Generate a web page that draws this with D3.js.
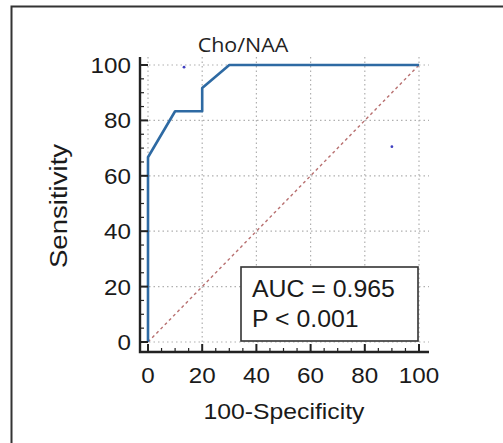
<!DOCTYPE html>
<html>
<head>
<meta charset="utf-8">
<script src="https://cdn.jsdelivr.net/npm/d3@7"></script>
<style>
  body { margin: 0; background: #fff; }
  svg { display: block; }
  text { font-family: "Liberation Sans", Arial, sans-serif; fill: #1a1a1a; }
</style>
</head>
<body>
<div id="chart"></div>
<script>
// ROC curve points (100-Specificity, Sensitivity)
var rocX = [0, 0, 10, 20, 20, 30, 100];
var rocY = [0, 66.7, 83.3, 83.3, 91.7, 100, 100];
// stray markers seen in the plot
var dotX = [13.3, 90];
var dotY = [99.2, 70.5];
var xTicks = [0, 20, 40, 60, 80, 100];
var yTicks = [0, 20, 40, 60, 80, 100];
var minorTicks = d3.range(0, 101, 5);
var chartTitle = "Cho/NAA";
var xLabel = "100-Specificity";
var yLabel = "Sensitivity";
var statLines = ["AUC = 0.965", "P < 0.001"];

var width = 503, height = 443;
var svg = d3.select("#chart").append("svg")
    .attr("width", width)
    .attr("height", height);

// stretch text horizontally a bit, the source picture is wider than tall
function stretch(sel, k) {
    sel.each(function () {
        var w = this.getComputedTextLength();
        d3.select(this).attr("textLength", w * k).attr("lengthAdjust", "spacingAndGlyphs");
    });
}

// frame (only left and top edges visible)
svg.append("path")
    .attr("d", "M11.5,443 V6.5 H503")
    .attr("fill", "none")
    .attr("stroke", "#333")
    .attr("stroke-width", 2);

var xScale = d3.scaleLinear().domain([0, 100]).range([148, 419]);
var yScale = d3.scaleLinear().domain([0, 100]).range([342, 65]);
var axisX0 = 140, axisY0 = 352, axisTop = 57, axisRight = 429;

// grid
var grid = svg.append("g").attr("stroke", "#b0b0b0").attr("stroke-width", 1.2)
    .attr("stroke-dasharray", "1.5,3");
grid.selectAll(".gx").data(xTicks).enter().append("line")
    .attr("x1", d => xScale(d)).attr("x2", d => xScale(d))
    .attr("y1", axisTop).attr("y2", axisY0);
grid.selectAll(".gy").data(yTicks).enter().append("line")
    .attr("y1", d => yScale(d)).attr("y2", d => yScale(d))
    .attr("x1", axisX0).attr("x2", axisRight);

// diagonal reference
svg.append("line")
    .attr("x1", xScale(0)).attr("y1", yScale(0))
    .attr("x2", xScale(100)).attr("y2", yScale(100))
    .attr("stroke", "#b87070").attr("stroke-width", 1.4)
    .attr("stroke-dasharray", "3,3");

// ROC curve
var line = d3.line().x(d => xScale(d[0])).y(d => yScale(d[1]));
svg.append("path")
    .datum(d3.zip(rocX, rocY))
    .attr("d", line)
    .attr("fill", "none")
    .attr("stroke", "#2e6aa3")
    .attr("stroke-width", 2.6)
    .attr("stroke-linejoin", "round");

svg.selectAll(".dot").data(d3.zip(dotX, dotY)).enter().append("circle")
    .attr("cx", d => xScale(d[0])).attr("cy", d => yScale(d[1]))
    .attr("r", 1.4).attr("fill", "#4040c0");

// axes
var axes = svg.append("g").attr("stroke", "#222");
axes.append("path")
    .attr("d", "M" + axisX0 + "," + axisTop + " V" + axisY0 + " H" + axisRight)
    .attr("fill", "none").attr("stroke-width", 2.4);
axes.selectAll(".ym").data(minorTicks).enter().append("line")
    .attr("x1", axisX0).attr("x2", d => axisX0 + (d % 20 === 0 ? 8 : 4))
    .attr("y1", d => yScale(d)).attr("y2", d => yScale(d))
    .attr("stroke-width", d => d % 20 === 0 ? 2 : 1.2);
axes.selectAll(".xm").data(minorTicks).enter().append("line")
    .attr("y1", axisY0).attr("y2", d => axisY0 - (d % 20 === 0 ? 8 : 4))
    .attr("x1", d => xScale(d)).attr("x2", d => xScale(d))
    .attr("stroke-width", d => d % 20 === 0 ? 2 : 1.2);

// tick labels
svg.selectAll(".yl").data(yTicks).enter().append("text")
    .attr("x", 131).attr("y", d => yScale(d) + 8)
    .attr("text-anchor", "end").attr("font-size", 22)
    .text(d => d)
    .call(stretch, 1.1);
svg.selectAll(".xl").data(xTicks).enter().append("text")
    .attr("x", d => xScale(d)).attr("y", 383)
    .attr("text-anchor", "middle").attr("font-size", 22)
    .text(d => d)
    .call(stretch, 1.1);

// axis titles
svg.append("text")
    .attr("x", 284).attr("y", 419)
    .attr("text-anchor", "middle").attr("font-size", 22.5)
    .text(xLabel)
    .call(stretch, 1.1);
svg.append("text")
    .attr("transform", "translate(67,206) rotate(-90)")
    .attr("text-anchor", "middle").attr("font-size", 23)
    .text(yLabel)
    .call(stretch, 1.2);
svg.append("text")
    .attr("x", 243).attr("y", 52)
    .attr("text-anchor", "middle")
    .style("font-family", "'Open Sans', 'Noto Sans', sans-serif")
    .attr("font-size", 19.5)
    .style("fill", "#222")
    .text(chartTitle)
    .call(stretch, 1.1);

// stats box
svg.append("rect")
    .attr("x", 241).attr("y", 267).attr("width", 177).attr("height", 74)
    .attr("fill", "#fff").attr("stroke", "#333").attr("stroke-width", 1.6);
svg.selectAll(".stat").data(statLines).enter().append("text")
    .attr("x", 252).attr("y", (d, i) => 297 + i * 30)
    .attr("font-size", 23)
    .text(d => d)
    .call(stretch, 1.08);
</script>
</body>
</html>
